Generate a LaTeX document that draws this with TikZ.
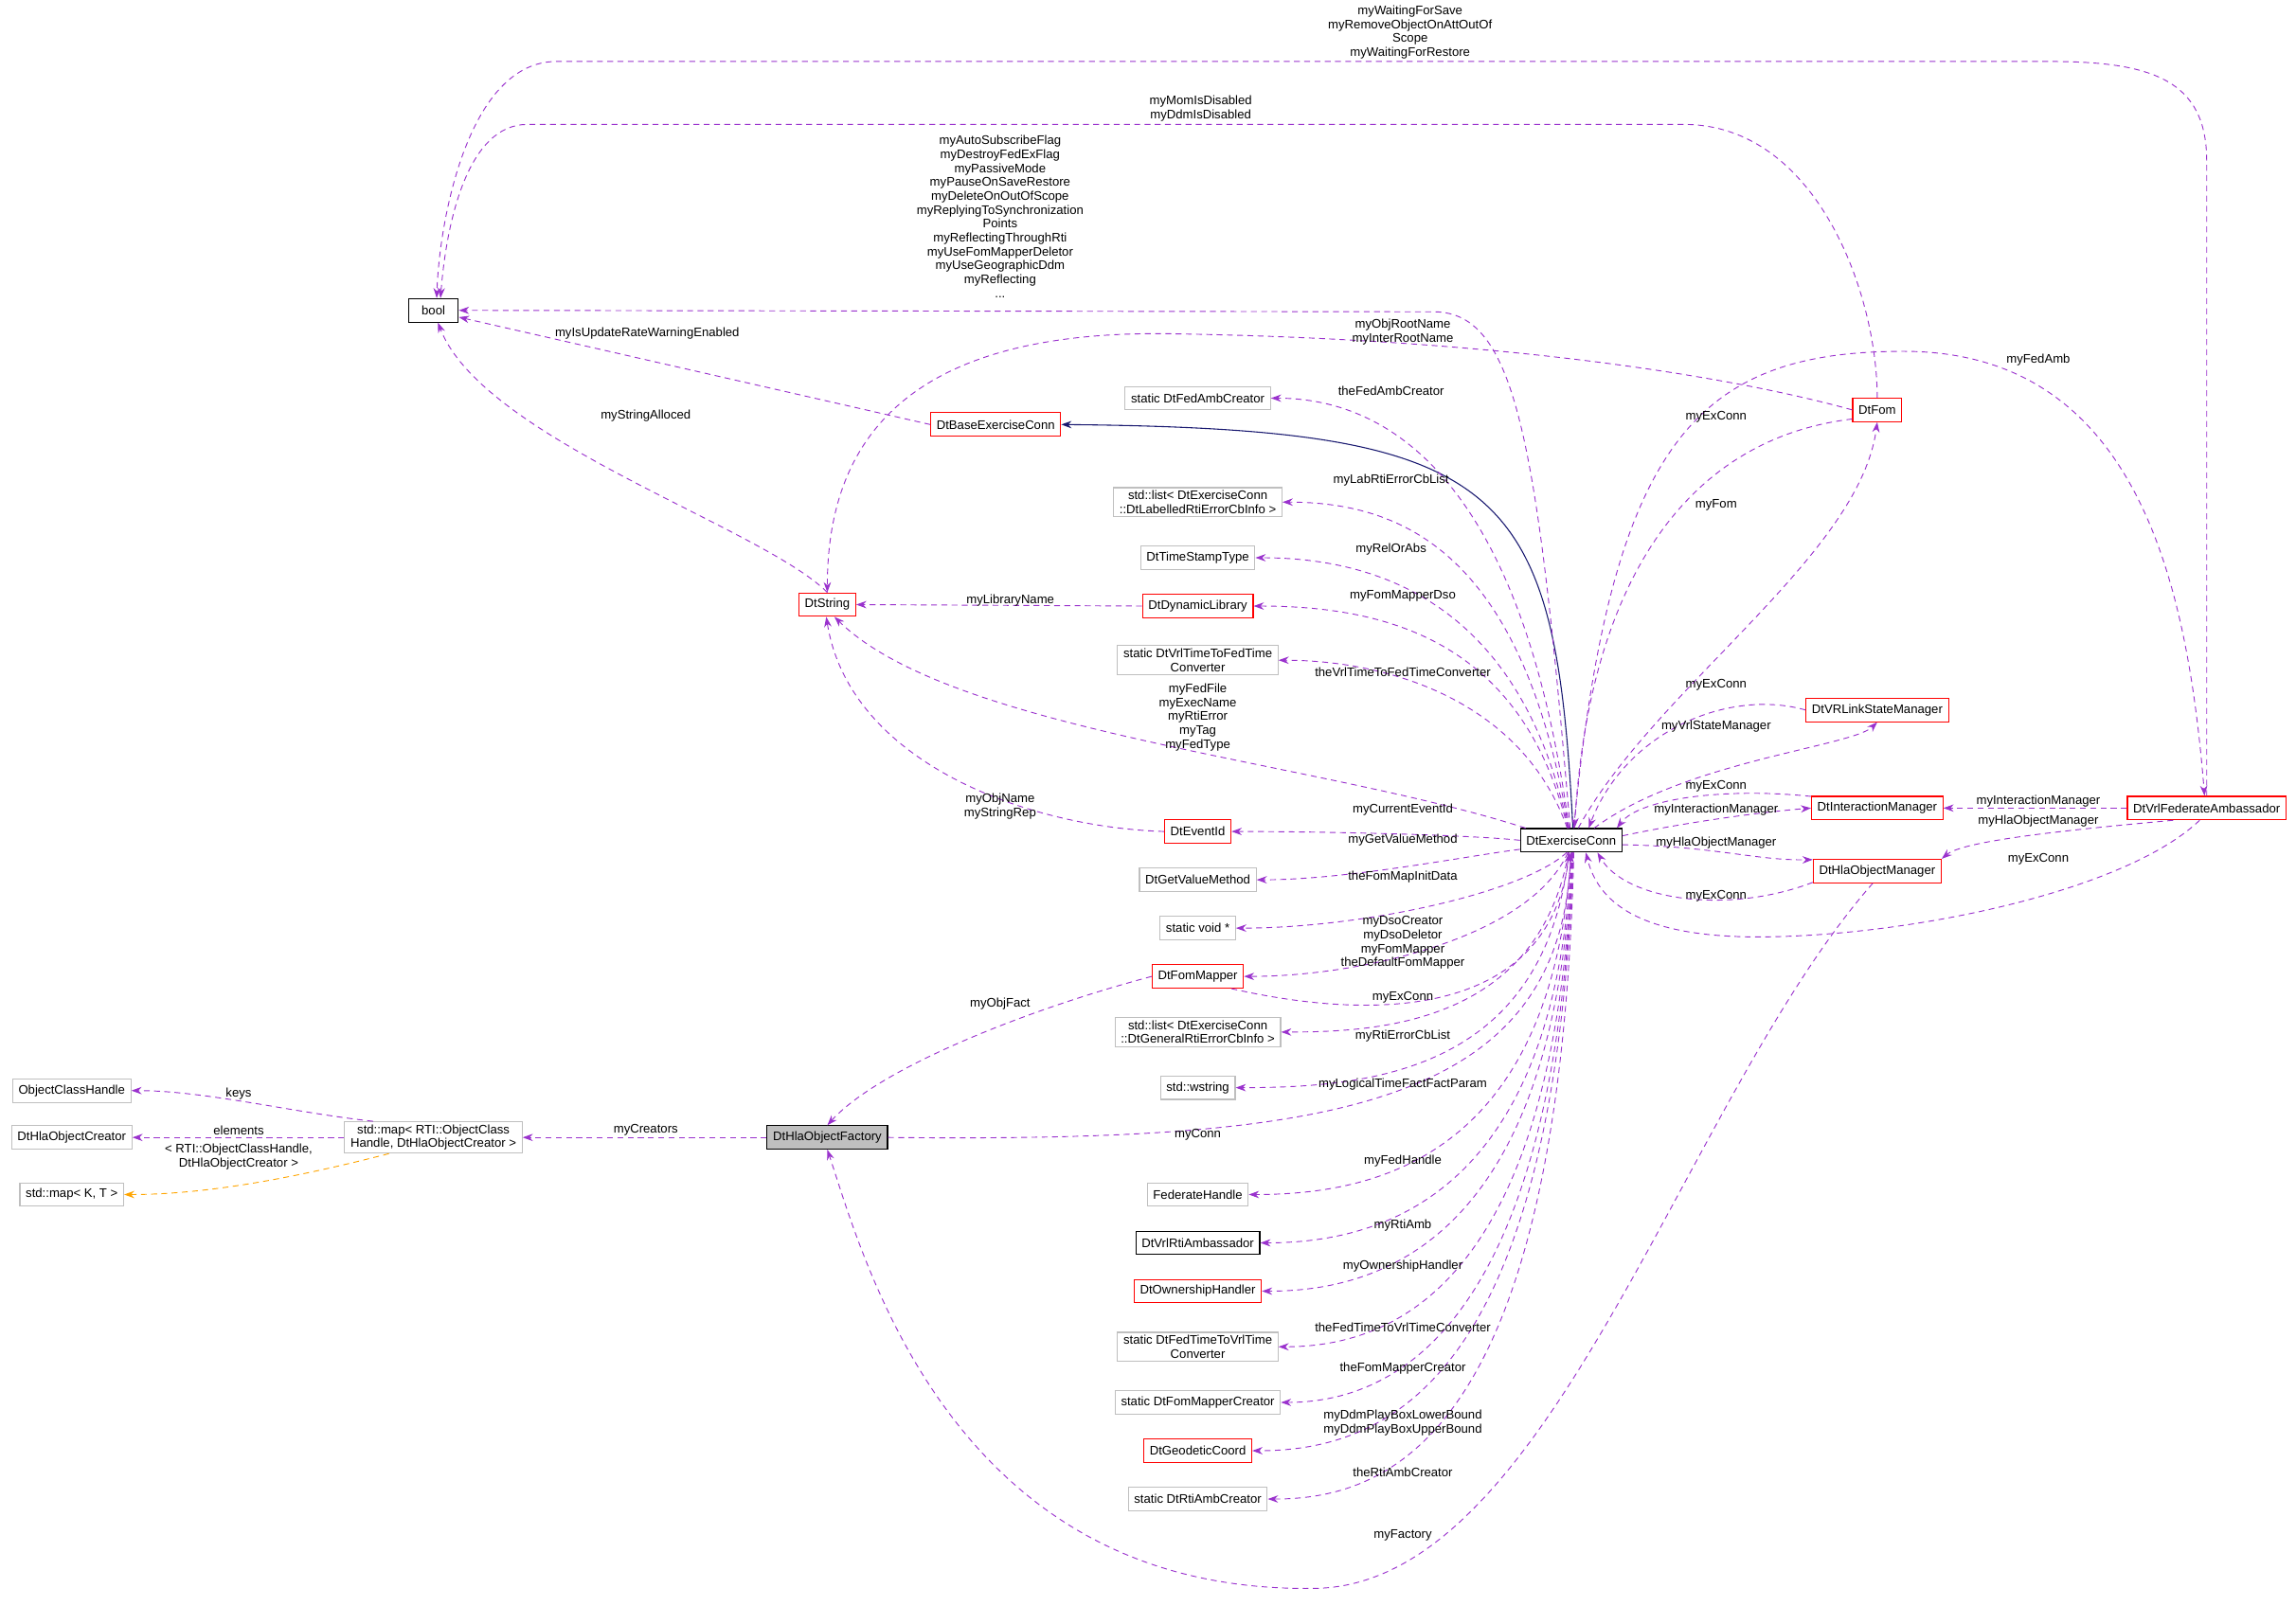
\documentclass[tikz,border=0pt]{standalone}
\usepackage{fontspec}
\setmainfont{Liberation Sans}
\usetikzlibrary{arrows.meta}
\definecolor{pur}{HTML}{9A32CD}
\definecolor{gb}{HTML}{BFBFBF}
\definecolor{inhc}{HTML}{191970}
\definecolor{orc}{HTML}{FFA500}
\begin{document}
\begin{tikzpicture}[x=1pt,y=-1pt,
 box/.style={draw,line width=0.7pt,minimum height=16pt,inner xsep=4pt,inner ysep=2pt,font=\fontsize{8.5}{9.5}\selectfont,align=center},
 gbox/.style={box,draw=gb},
 rbox/.style={box,draw=red},
 kbox/.style={box,draw=black},
 lab/.style={font=\fontsize{8.5}{9.5}\selectfont,align=center,inner sep=0pt},
 use/.style={draw=pur,dashed,line width=0.6pt,dash pattern=on 4pt off 3pt,-{Stealth[length=7pt,width=5pt]}},
 inh/.style={draw=inhc,line width=0.7pt,-{Stealth[length=7pt,width=5pt]}},
 tmpl/.style={draw=orc,dashed,line width=0.6pt,dash pattern=on 4pt off 3pt,-{Stealth[length=7pt,width=5pt]}}]
\useasboundingbox (0,0) rectangle (1568,1097);
% nodes
\node[kbox,minimum width=34pt] (bool) at (296,212) {bool};
\node[rbox] (bec) at (680,290) {DtBaseExerciseConn};
\node[gbox] (fac1) at (818,272) {static DtFedAmbCreator};
\node[gbox] (lab1) at (818,343) {std::list\textless{} DtExerciseConn\\::DtLabelledRtiErrorCbInfo \textgreater{}};
\node[gbox] (tst) at (818,381) {DtTimeStampType};
\node[rbox] (str) at (565,413) {DtString};
\node[rbox] (dyn) at (818,414) {DtDynamicLibrary};
\node[gbox] (v2f) at (818,451) {static DtVrlTimeToFedTime\\Converter};
\node[rbox] (evid) at (818,568) {DtEventId};
\node[gbox] (gvm) at (818,601) {DtGetValueMethod};
\node[gbox] (vp) at (818,634) {static void *};
\node[rbox] (fm) at (818,667) {DtFomMapper};
\node[gbox] (gen) at (818,705) {std::list\textless{} DtExerciseConn\\::DtGeneralRtiErrorCbInfo \textgreater{}};
\node[gbox] (ws) at (818,743) {std::wstring};
\node[gbox] (fh) at (818,816) {FederateHandle};
\node[kbox] (ra) at (818,849) {DtVrlRtiAmbassador};
\node[rbox] (own) at (818,882) {DtOwnershipHandler};
\node[gbox] (f2v) at (818,920) {static DtFedTimeToVrlTime\\Converter};
\node[gbox] (fmc) at (818,958) {static DtFomMapperCreator};
\node[rbox] (geo) at (818,991) {DtGeodeticCoord};
\node[gbox] (rac) at (818,1024) {static DtRtiAmbCreator};
\node[kbox] (ec) at (1073,574) {DtExerciseConn};
\node[rbox] (fom) at (1282,280) {DtFom};
\node[rbox] (vsm) at (1282,485) {DtVRLinkStateManager};
\node[rbox] (im) at (1282,552) {DtInteractionManager};
\node[rbox] (hom) at (1282,595) {DtHlaObjectManager};
\node[rbox] (vfa) at (1507,552) {DtVrlFederateAmbassador};
\node[box,draw=black,fill=gb] (fac) at (565,777) {DtHlaObjectFactory};
\node[gbox] (map) at (296,777) {std::map\textless{} RTI::ObjectClass\\Handle, DtHlaObjectCreator \textgreater{}};
\node[gbox] (och) at (49,745) {ObjectClassHandle};
\node[gbox] (hoc) at (49,777) {DtHlaObjectCreator};
\node[gbox] (mkt) at (49,816) {std::map\textless{} K, T \textgreater{}};
% inheritance
\draw[inh] (ec.82) .. controls (1062,330) and (1030,293) .. (bec.east);
% bool edges
\draw[use] (ec.95) .. controls (1050,300) and (1035,214) .. (980,213) -- (bool.east);
\draw[use] (fom.north) .. controls (1282,200) and (1240,85) .. (1150,85) -- (360,85) .. controls (320,85) and (305,150) .. (bool.60);
\draw[use] (vfa.north) -- (1507,110) .. controls (1507,55) and (1470,42) .. (1400,42) -- (380,42) .. controls (320,42) and (300,150) .. (bool.75);
\draw[use] (bec.west) -- (bool.-15);
\draw[use] (str.north) .. controls (520,360) and (330,300) .. (bool.-70);
% column edges above
\draw[use] (ec.100) .. controls (1040,330) and (950,272) .. (fac1.east);
\draw[use] (ec.102) .. controls (1040,380) and (960,343) .. (lab1.east);
\draw[use] (ec.104) .. controls (1040,420) and (950,381) .. (tst.east);
\draw[use] (ec.106) .. controls (1040,440) and (950,414) .. (dyn.east);
\draw[use] (ec.108) .. controls (1040,480) and (950,451) .. (v2f.east);
\draw[use] (ec.west) .. controls (1000,570) and (900,568) .. (evid.east);
\draw[use] (ec.190) .. controls (1000,585) and (920,601) .. (gvm.east);
\draw[use] (ec.250) .. controls (1040,610) and (930,634) .. (vp.east);
\draw[use] (ec.255) .. controls (1045,640) and (930,667) .. (fm.east);
\draw[use] (fm.-20) .. controls (950,700) and (1058,690) .. (ec.262);
\draw[use] (ec.258) .. controls (1050,700) and (940,705) .. (gen.east);
\draw[use] (ec.260) .. controls (1055,730) and (940,743) .. (ws.east);
\draw[use] (fac.east) .. controls (900,780) and (1065,760) .. (ec.268);
\draw[use] (ec.270) .. controls (1060,790) and (940,816) .. (fh.east);
\draw[use] (ec.272) .. controls (1062,820) and (940,849) .. (ra.east);
\draw[use] (ec.274) .. controls (1062,850) and (940,882) .. (own.east);
\draw[use] (ec.276) .. controls (1062,880) and (950,920) .. (f2v.east);
\draw[use] (ec.278) .. controls (1062,910) and (950,958) .. (fmc.east);
\draw[use] (ec.280) .. controls (1062,940) and (950,991) .. (geo.east);
\draw[use] (ec.282) .. controls (1065,980) and (950,1024) .. (rac.east);
% DtString edges
\draw[use] (dyn.west) -- (str.east);
\draw[use] (ec.165) .. controls (900,520) and (650,500) .. (str.-60);
\draw[use] (evid.west) .. controls (700,565) and (580,520) .. (str.-95);
\draw[use] (fom.west) .. controls (1200,262) and (1050,232) .. (800,228) .. controls (620,225) and (565,300) .. (str.north);
% right side
\draw[use] (fom.200) .. controls (1150,300) and (1085,400) .. (ec.75);
\draw[use] (ec.60) .. controls (1130,470) and (1270,380) .. (fom.south);
\draw[use] (vsm.west) .. controls (1180,470) and (1110,500) .. (ec.35);
\draw[use] (ec.28) .. controls (1150,520) and (1265,510) .. (vsm.south);
\draw[use] (im.170) .. controls (1180,538) and (1120,545) .. (ec.15);
\draw[use] (ec.5) .. controls (1150,562) and (1200,555) .. (im.west);
\draw[use] (ec.-5) .. controls (1170,578) and (1200,588) .. (hom.170);
\draw[use] (hom.190) .. controls (1180,625) and (1110,615) .. (ec.-25);
\draw[use] (vfa.west) -- (im.east);
\draw[use] (vfa.200) .. controls (1400,568) and (1340,575) .. (hom.north east);
\draw[use] (vfa.-120) .. controls (1450,610) and (1300,640) .. (1200,640) .. controls (1110,640) and (1090,610) .. (ec.-40);
\draw[use] (ec.78) .. controls (1100,300) and (1160,240) .. (1300,240) .. controls (1460,240) and (1494,400) .. (vfa.100);
% factory
\draw[use] (fm.west) .. controls (700,690) and (600,730) .. (fac.north);
\draw[use] (hom.250) .. controls (1150,750) and (1060,1080) .. (900,1085) .. controls (650,1090) and (590,860) .. (fac.south);
\draw[use] (fac.west) -- (map.east);
\draw[use] (map.165) .. controls (200,760) and (140,745) .. (och.east);
\draw[use] (map.west) -- (hoc.east);
\draw[tmpl] (map.-160) .. controls (200,805) and (140,816) .. (mkt.east);
% labels
\node[lab] (l1) at (963,22) {myWaitingForSave\\myRemoveObjectOnAttOutOf\\Scope\\myWaitingForRestore};
\node[lab] (l2) at (820,74) {myMomIsDisabled\\myDdmIsDisabled};
\node[lab] (l3) at (683,148) {myAutoSubscribeFlag\\myDestroyFedExFlag\\myPassiveMode\\myPauseOnSaveRestore\\myDeleteOnOutOfScope\\myReplyingToSynchronization\\Points\\myReflectingThroughRti\\myUseFomMapperDeletor\\myUseGeographicDdm\\myReflecting\\...};
\node[lab] (l4) at (442,228) {myIsUpdateRateWarningEnabled};
\node[lab] (l5) at (958,227) {myObjRootName\\myInterRootName};
\node[lab] (l6) at (1392,246) {myFedAmb};
\node[lab] (l7) at (950,267) {theFedAmbCreator};
\node[lab] (l8) at (441,284) {myStringAlloced};
\node[lab] (l9) at (1172,285) {myExConn};
\node[lab] (l10) at (950,328) {myLabRtiErrorCbList};
\node[lab] (l11) at (1172,345) {myFom};
\node[lab] (l12) at (950,375) {myRelOrAbs};
\node[lab] (l13) at (958,407) {myFomMapperDso};
\node[lab] (l14) at (690,410) {myLibraryName};
\node[lab] (l15) at (958,459) {theVrlTimeToFedTimeConverter};
\node[lab] (l16) at (1172,468) {myExConn};
\node[lab] (l17) at (818,490) {myFedFile\\myExecName\\myRtiError\\myTag\\myFedType};
\node[lab] (l18) at (1172,496) {myVrlStateManager};
\node[lab] (l19) at (1172,537) {myExConn};
\node[lab] (l20) at (683,551) {myObjName\\myStringRep};
\node[lab] (l21) at (958,553) {myCurrentEventId};
\node[lab] (l22) at (1172,553) {myInteractionManager};
\node[lab] (l23) at (1392,547) {myInteractionManager};
\node[lab] (l24) at (1392,561) {myHlaObjectManager};
\node[lab] (l25) at (958,574) {myGetValueMethod};
\node[lab] (l26) at (1172,576) {myHlaObjectManager};
\node[lab] (l27) at (1392,587) {myExConn};
\node[lab] (l28) at (958,599) {theFomMapInitData};
\node[lab] (l29) at (1172,612) {myExConn};
\node[lab] (l30) at (958,644) {myDsoCreator\\myDsoDeletor\\myFomMapper\\theDefaultFomMapper};
\node[lab] (l31) at (958,681) {myExConn};
\node[lab] (l32) at (683,686) {myObjFact};
\node[lab] (l33) at (958,708) {myRtiErrorCbList};
\node[lab] (l34) at (958,741) {myLogicalTimeFactFactParam};
\node[lab] (l35) at (163,747) {keys};
\node[lab] (l36) at (163,772) {elements};
\node[lab] (l37) at (441,772) {myCreators};
\node[lab] (l38) at (818,775) {myConn};
\node[lab] (l39) at (163,790) {\textless{} RTI::ObjectClassHandle,\\DtHlaObjectCreator \textgreater{}};
\node[lab] (l40) at (958,793) {myFedHandle};
\node[lab] (l41) at (958,837) {myRtiAmb};
\node[lab] (l42) at (958,865) {myOwnershipHandler};
\node[lab] (l43) at (958,907) {theFedTimeToVrlTimeConverter};
\node[lab] (l44) at (958,935) {theFomMapperCreator};
\node[lab] (l45) at (958,972) {myDdmPlayBoxLowerBound\\myDdmPlayBoxUpperBound};
\node[lab] (l46) at (958,1006) {theRtiAmbCreator};
\node[lab] (l47) at (958,1049) {myFactory};
\end{tikzpicture}
\end{document}
